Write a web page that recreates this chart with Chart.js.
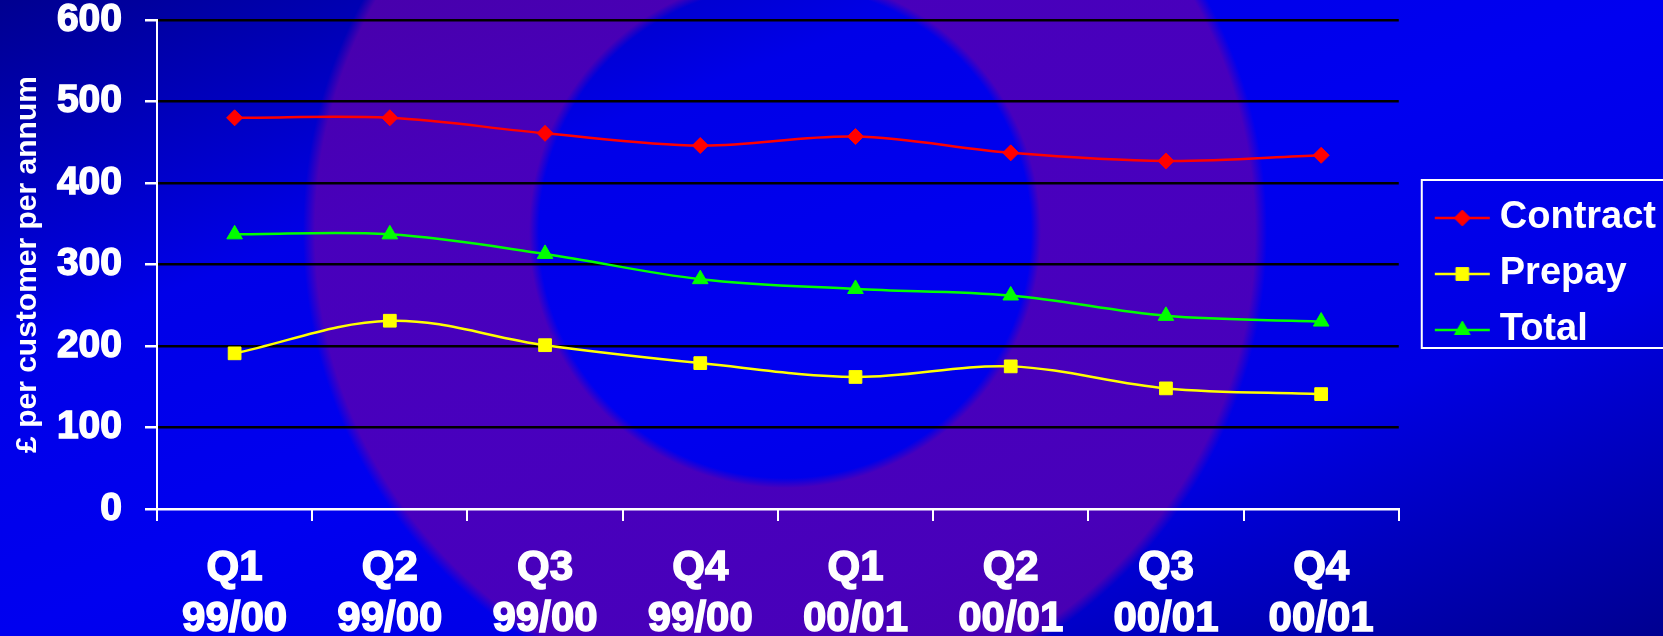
<!DOCTYPE html>
<html>
<head>
<meta charset="utf-8">
<script src="https://cdn.jsdelivr.net/npm/chart.js@4.4.1/dist/chart.umd.min.js"></script>
<style>
  html, body { margin: 0; padding: 0; }
  body {
    width: 1663px;
    height: 636px;
    overflow: hidden;
    background:
      radial-gradient(circle at 785px 232px,
        rgba(0,0,0,0) 0px, rgba(0,0,0,0) 246px,
        rgba(100,0,170,0.72) 256px, rgba(100,0,170,0.72) 470px,
        rgba(0,0,0,0) 482px),
      linear-gradient(to bottom right, #000090 0%, #0000e8 28%, #0000f0 50%, #0000e4 72%, #000090 100%);
  }
  canvas { display: block; }
</style>
</head>
<body>
<canvas id="arpuChart" width="1663" height="636"></canvas>
<script>
// Values
let quarters = ['Q1', 'Q2', 'Q3', 'Q4', 'Q1', 'Q2', 'Q3', 'Q4'];
let years = ['99/00', '99/00', '99/00', '99/00', '00/01', '00/01', '00/01', '00/01'];
let contract = [480, 480, 461, 446, 457, 437, 427, 434];
let prepay = [191, 231, 201, 179, 162, 175, 148, 141];
let total = [337, 337, 313, 282, 270, 262, 237, 230];
let yMin = 0, yMax = 600, yStep = 100;

Chart.defaults.font.family = '"Liberation Sans", Arial, sans-serif';
Chart.defaults.font.weight = 'bold';
Chart.defaults.color = '#ffffff';

// legend icons: short line with the marker in the middle
function legendIcon(color, style, radius) {
    const c = document.createElement('canvas');
    c.width = 84;
    c.height = 22;
    const g = c.getContext('2d');
    g.strokeStyle = color;
    g.lineWidth = 2.5;
    g.beginPath();
    g.moveTo(28, 11);
    g.lineTo(83, 11);
    g.stroke();
    g.fillStyle = color;
    g.strokeStyle = color;
    g.lineWidth = 1;
    Chart.helpers.drawPoint(g, { pointStyle: style, radius: radius, borderWidth: 1 }, 55.5, 11);
    return c;
}

const series = [
    { label: 'Contract', data: contract, color: '#ff0000', style: 'rectRot', radius: 8 },
    { label: 'Prepay', data: prepay, color: '#ffff00', style: 'rect', radius: 9 },
    { label: 'Total', data: total, color: '#00ff00', style: 'triangle', radius: 9 }
];
const icons = series.map(s => legendIcon(s.color, s.style, s.radius));

// white box round the legend
const legendFrame = {
    id: 'legendFrame',
    afterDraw(chart) {
        const boxes = chart.legend.legendHitBoxes;
        if (!boxes || !boxes.length) return;
        const first = boxes[0];
        const g = chart.ctx;
        g.save();
        g.strokeStyle = '#ffffff';
        g.lineWidth = 2;
        g.strokeRect(first.left + 5, first.top - 19, 300, 168);
        g.restore();
    }
};

const ctx = document.getElementById('arpuChart');

new Chart(ctx, {
    type: 'line',
    data: {
        labels: quarters.map((q, i) => [q, years[i]]),
        datasets: series.map(s => ({
            label: s.label,
            data: s.data,
            borderColor: s.color,
            backgroundColor: s.color,
            borderWidth: 2.5,
            pointStyle: s.style,
            pointRadius: s.radius,
            pointHoverRadius: s.radius,
            pointBorderWidth: 1,
            tension: 0.35,
            fill: false
        }))
    },
    options: {
        responsive: false,
        devicePixelRatio: 1,
        animation: false,
        layout: { padding: { left: 0, top: 0, right: -3, bottom: 0 } },
        plugins: {
            tooltip: { enabled: false },
            legend: {
                position: 'right',
                align: 'start',
                title: { display: true, text: ' ', font: { size: 10 }, padding: { top: 169, bottom: 0 } },
                labels: {
                    usePointStyle: true,
                    pointStyleWidth: 64,
                    padding: 18,
                    color: '#ffffff',
                    font: { size: 38, weight: 'bold' },
                    generateLabels(chart) {
                        const items = Chart.defaults.plugins.legend.labels.generateLabels(chart);
                        items.forEach((it, i) => {
                            it.pointStyle = icons[i];
                            it.fontColor = '#ffffff';
                        });
                        return items;
                    }
                }
            }
        },
        scales: {
            x: {
                offset: true,
                afterFit(s) { s.height = 127; },
                grid: {
                    offset: true,
                    drawOnChartArea: false,
                    tickColor: '#ffffff',
                    tickLength: 12,
                    lineWidth: 2
                },
                border: { color: '#ffffff', width: 2 },
                ticks: {
                    color: '#ffffff',
                    padding: 22,
                    maxRotation: 0,
                    textStrokeColor: '#ffffff',
                    textStrokeWidth: 1.5,
                    font: { size: 42, weight: 'bold', lineHeight: 1.214 }
                }
            },
            y: {
                min: yMin,
                max: yMax,
                afterFit(s) { s.width = 157; s.paddingTop = 20; },
                grid: {
                    color: c => (c.tick && c.tick.value === 0 ? '#ffffff' : '#000000'),
                    tickColor: '#ffffff',
                    tickLength: 12,
                    lineWidth: 2.5
                },
                border: { color: '#ffffff', width: 2 },
                ticks: {
                    stepSize: yStep,
                    color: '#ffffff',
                    padding: 23,
                    textStrokeColor: '#ffffff',
                    textStrokeWidth: 1.5,
                    font: { size: 39, weight: 'bold' }
                },
                title: {
                    display: true,
                    text: '£ per customer per annum',
                    color: '#ffffff',
                    padding: { top: 10, bottom: 0 },
                    font: { size: 30, weight: 'bold' }
                }
            }
        }
    },
    plugins: [legendFrame]
});
</script>
</body>
</html>
